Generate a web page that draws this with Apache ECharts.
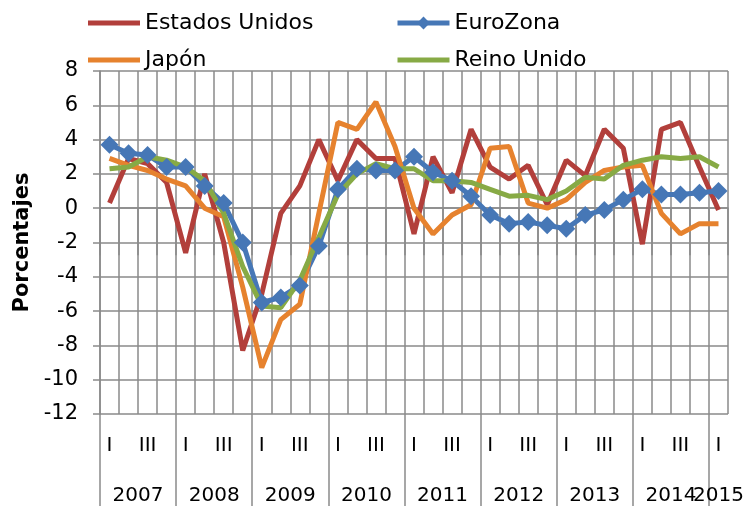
<!DOCTYPE html>
<html lang="es">
<head>
    <meta charset="UTF-8">
    <title>Crecimiento del PIB</title>
    <style>
        html, body { margin: 0; padding: 0; background: #fff; }
        #chart { width: 754px; height: 506px; }
    </style>
</head>
<body>
<div id="chart"></div>
<script src="https://cdn.jsdelivr.net/npm/echarts@6/dist/echarts.min.js"></script>
<script>
    // trimestres 2007-I ... 2015-I
    var years = ['2007', '2008', '2009', '2010', '2011', '2012', '2013', '2014', '2015'];
    var quarterNames = ['I', '', 'III', ''];

    var estadosUnidos = [0.3, 2.9, 2.6, 1.5, -2.6, 2.0, -2.0, -8.3, -5.0, -0.3, 1.3, 4.0, 1.6, 4.0, 2.9, 2.9,
        -1.5, 3.0, 0.9, 4.6, 2.4, 1.7, 2.5, 0.2, 2.8, 1.9, 4.6, 3.5, -2.1, 4.6, 5.0, 2.4, -0.1];
    var euroZona = [3.7, 3.2, 3.1, 2.4, 2.4, 1.3, 0.3, -2.0, -5.5, -5.2, -4.5, -2.2, 1.1, 2.3, 2.2, 2.2,
        3.0, 2.1, 1.6, 0.7, -0.4, -0.9, -0.8, -1.0, -1.2, -0.4, -0.1, 0.5, 1.1, 0.8, 0.8, 0.9, 1.0];
    var japon = [2.9, 2.5, 2.2, 1.7, 1.3, 0.0, -0.5, -4.6, -9.3, -6.5, -5.6, -0.3, 5.0, 4.6, 6.2, 3.6,
        0.0, -1.5, -0.4, 0.2, 3.5, 3.6, 0.3, 0.0, 0.5, 1.5, 2.2, 2.4, 2.5, -0.3, -1.5, -0.9, -0.9];
    var reinoUnido = [2.3, 2.4, 3.0, 2.8, 2.4, 1.6, -0.3, -3.4, -5.7, -5.8, -4.2, -1.7, 0.8, 2.0, 2.6, 2.3,
        2.3, 1.6, 1.6, 1.5, 1.1, 0.7, 0.75, 0.5, 1.0, 1.8, 1.7, 2.5, 2.8, 3.0, 2.9, 3.0, 2.4];

    var font = 'DejaVu Sans';
    var gridColor = '#8a8a8a';
    var nq = estadosUnidos.length;
    var barIcon = 'path://M0,0 L52,0 L52,5 L0,5 Z';

    // eje de trimestres
    var quarters = [];
    for (var i = 0; i < nq; i++) {
        quarters.push(years[Math.floor(i / 4)] + '-' + (i % 4 + 1));
    }

    // eje de años: medias posiciones de trimestre (0 .. 2*nq)
    var halfSlots = [];
    var yearAt = {};
    for (var k = 0; k < years.length; k++) {
        var start = k * 4, end = Math.min(k * 4 + 4, nq);
        yearAt[start + end] = years[k];
    }
    for (var h = 0; h <= nq * 2; h++) {
        halfSlots.push('h' + h);
    }

    var chart = echarts.init(document.getElementById('chart'));

    var legendBase = {
        orient: 'vertical',
        top: 6,
        itemWidth: 52,
        itemHeight: 16,
        itemGap: 13,
        symbolKeepAspect: true,
        lineStyle: { width: 5 },
        textStyle: { fontFamily: font, fontSize: 22, color: '#000', lineHeight: 24 }
    };

    var option = {
        animation: false,
        legend: [
            Object.assign({ left: 83, data: [
                { name: 'Estados Unidos', icon: barIcon },
                { name: 'Japón', icon: barIcon }
            ] }, legendBase),
            Object.assign({ left: 390, data: [
                { name: 'EuroZona' },
                { name: 'Reino Unido', icon: barIcon }
            ] }, legendBase)
        ],
        grid: { left: 100, right: 26, top: 71, bottom: 92, containLabel: false },
        xAxis: [
            {
                type: 'category',
                position: 'bottom',
                data: quarters,
                boundaryGap: true,
                axisLine: { show: true, lineStyle: { color: gridColor, width: 1.5 } },
                axisTick: { show: true, interval: 0, length: 47, lineStyle: { color: gridColor, width: 1.5 } },
                axisLabel: {
                    interval: 0, margin: 22,
                    fontFamily: font, fontSize: 20, color: '#000',
                    formatter: function (v, idx) { return quarterNames[idx % 4]; }
                },
                splitLine: { show: true, interval: 0, lineStyle: { color: gridColor, width: 1.5 } }
            },
            {
                type: 'category',
                position: 'bottom',
                data: halfSlots,
                boundaryGap: false,
                axisLine: { show: false },
                axisTick: {
                    show: true, length: 92,
                    interval: function (idx) { return idx % 8 === 0 && idx < nq * 2; },
                    lineStyle: { color: gridColor, width: 1.5 }
                },
                axisLabel: {
                    interval: 0, margin: 72,
                    fontFamily: font, fontSize: 20, color: '#000',
                    formatter: function (v, idx) { return yearAt[idx] || ''; }
                },
                splitLine: { show: false }
            }
        ],
        yAxis: {
            type: 'value',
            min: -12,
            max: 8,
            interval: 2,
            name: 'Porcentajes',
            nameLocation: 'middle',
            nameGap: 62,
            nameTextStyle: { fontFamily: font, fontSize: 21, fontWeight: 'bold', color: '#000' },
            axisLine: { show: true, lineStyle: { color: gridColor, width: 1.5 } },
            axisTick: { show: true, length: 7, lineStyle: { color: gridColor, width: 1.5 } },
            axisLabel: { margin: 22, fontFamily: font, fontSize: 21, color: '#000' },
            splitLine: { show: true, lineStyle: { color: gridColor, width: 1.5 } }
        },
        series: [
            {
                name: 'Estados Unidos', type: 'line', data: estadosUnidos,
                symbol: 'none', color: '#B23F3B',
                lineStyle: { width: 5, color: '#B23F3B' }
            },
            {
                name: 'EuroZona', type: 'line', data: euroZona,
                symbol: 'diamond', symbolSize: 18, color: '#4677B6',
                itemStyle: { color: '#4677B6' },
                lineStyle: { width: 5, color: '#4677B6' }
            },
            {
                name: 'Japón', type: 'line', data: japon,
                symbol: 'none', color: '#E6822E',
                lineStyle: { width: 5, color: '#E6822E' }
            },
            {
                name: 'Reino Unido', type: 'line', data: reinoUnido,
                symbol: 'none', color: '#87AA45',
                lineStyle: { width: 5, color: '#87AA45' }
            }
        ]
    };

    chart.setOption(option);
</script>
</body>
</html>
